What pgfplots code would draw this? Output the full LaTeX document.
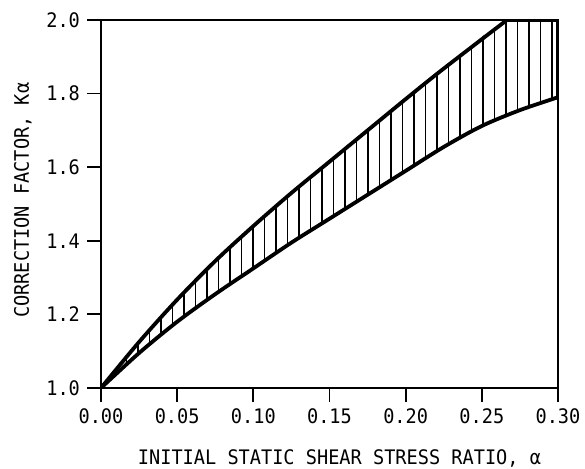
\documentclass[border=0pt]{standalone}
\usepackage{fontspec}
\setmainfont{DejaVu Sans Mono}[FakeStretch=0.93]
\usepackage{pgfplots}
\pgfplotsset{compat=1.18}
\usepgfplotslibrary{fillbetween}
\usetikzlibrary{patterns.meta}
\begin{document}
\begin{tikzpicture}
\begin{axis}[
  scale only axis,
  width=228.5pt, height=184pt,
  xmin=0, xmax=0.30, ymin=1.0, ymax=2.0,
  xtick={0,0.05,0.10,0.15,0.20,0.25,0.30},
  ytick={1.0,1.2,1.4,1.6,1.8,2.0},
  xtick pos=bottom, ytick pos=left,
  tick align=outside,
  major tick length=7pt,
  every tick/.style={black, line width=0.9pt},
  axis line style={line width=0.9pt},
  /pgf/number format/assume math mode=true,
  xticklabel style={/pgf/number format/.cd, fixed, fixed zerofill, precision=2},
  yticklabel style={/pgf/number format/.cd, fixed, fixed zerofill, precision=1},
  tick label style={font=\fontsize{10}{12}\selectfont},
  label style={font=\fontsize{10}{12}\selectfont},
  xlabel={INITIAL STATIC SHEAR STRESS RATIO, α},
  ylabel={CORRECTION FACTOR, Kα},
  xlabel style={at={(axis description cs:0.5,0)}, anchor=center, yshift=-35pt, xshift=5pt},
  ylabel style={at={(axis description cs:-0.171,0.51)}, anchor=center},
]
% upper bound
\addplot[name path=upper, draw=none, smooth] coordinates {
 (0,1.0) (0.025,1.125) (0.05,1.24) (0.075,1.345) (0.10,1.44) (0.125,1.53)
 (0.15,1.615) (0.175,1.70) (0.20,1.785) (0.225,1.868) (0.2665,2.0) (0.30,2.0)};
% lower bound
\addplot[name path=lower, black, line width=1.9pt, smooth] coordinates {
 (0,1.0) (0.025,1.095) (0.05,1.18) (0.075,1.255) (0.10,1.325) (0.125,1.395)
 (0.15,1.46) (0.175,1.525) (0.20,1.59) (0.225,1.655) (0.25,1.712) (0.275,1.755) (0.30,1.79)};
\addplot[pattern={Lines[angle=90,distance=5.75pt,line width=0.8pt]}, draw=none]
  fill between[of=upper and lower];
% visible upper curve
\addplot[black, line width=1.9pt, smooth] coordinates {
 (0,1.0) (0.025,1.125) (0.05,1.24) (0.075,1.345) (0.10,1.44) (0.125,1.53)
 (0.15,1.615) (0.175,1.70) (0.20,1.785) (0.225,1.868) (0.2665,2.0)};
\addplot[black, line width=1.9pt] coordinates {(0.2665,2.0) (0.30,2.0)};
\addplot[black, line width=2.2pt] coordinates {(0.30,1.79) (0.30,2.0)};
\end{axis}
\pgfresetboundingbox
\useasboundingbox (-50.5pt,-40.5pt) rectangle (242pt,194pt);
\end{tikzpicture}
\end{document}
